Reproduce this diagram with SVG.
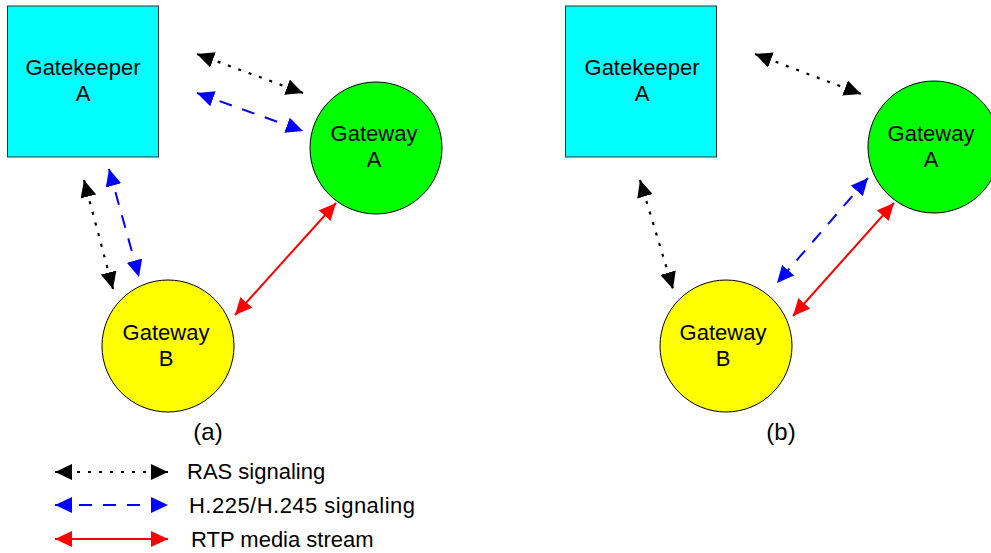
<svg xmlns="http://www.w3.org/2000/svg" width="991" height="553" viewBox="0 0 991 553">
  <style>
    text { font-family: "Liberation Sans", Arial, sans-serif; font-size: 22px; fill: #000; }
    .mid { text-anchor: middle; }
    .gk { fill: #00FFFF; stroke: #333; stroke-width: 1; }
    .gwa { fill: #00FF00; stroke: #000; stroke-width: 1; }
    .gwb { fill: #FFFF00; stroke: #000; stroke-width: 1; }
    .ras { stroke: #000; stroke-width: 2.2; fill: none; stroke-dasharray: 3 8; marker-start: url(#ak); marker-end: url(#ak); }
    .h225 { stroke: #0000FF; stroke-width: 2; fill: none; stroke-dasharray: 13 11; marker-start: url(#ab); marker-end: url(#ab); }
    .rtp { stroke: #FF0000; stroke-width: 2; fill: none; marker-start: url(#ar); marker-end: url(#ar); }
    .cap { font-size: 24px; }
  </style>
  <defs>
    <marker id="ak" viewBox="0 0 17 16" refX="17" refY="8" markerWidth="17" markerHeight="16" markerUnits="userSpaceOnUse" orient="auto-start-reverse">
      <path d="M0,0 L17,8 L0,16 z" fill="#000"/>
    </marker>
    <marker id="ab" viewBox="0 0 17 16" refX="17" refY="8" markerWidth="17" markerHeight="16" markerUnits="userSpaceOnUse" orient="auto-start-reverse">
      <path d="M0,0 L17,8 L0,16 z" fill="#0000FF"/>
    </marker>
    <marker id="ar" viewBox="0 0 17 16" refX="17" refY="8" markerWidth="17" markerHeight="16" markerUnits="userSpaceOnUse" orient="auto-start-reverse">
      <path d="M0,0 L17,8 L0,16 z" fill="#FF0000"/>
    </marker>
  </defs>

  <!-- Panel (a) -->
  <g id="gk-a">
    <rect class="gk" x="7.5" y="6" width="151" height="151"/>
    <text class="mid" x="83" y="75">Gatekeeper</text>
    <text class="mid" x="83" y="101">A</text>
  </g>
  <g id="gwa-a">
    <circle class="gwa" cx="376" cy="148" r="66"/>
    <text class="mid" x="374" y="141">Gateway</text>
    <text class="mid" x="374" y="167">A</text>
  </g>
  <g id="gwb-a">
    <circle class="gwb" cx="168" cy="346" r="66"/>
    <text class="mid" x="166" y="340">Gateway</text>
    <text class="mid" x="166" y="366">B</text>
  </g>
  <text id="label-a" class="mid cap" x="208" y="440">(a)</text>

  <!-- Panel (b) -->
  <g id="gk-b">
    <rect class="gk" x="565.5" y="6" width="151" height="151"/>
    <text class="mid" x="642" y="75">Gatekeeper</text>
    <text class="mid" x="642" y="101">A</text>
  </g>
  <g id="gwa-b">
    <circle class="gwa" cx="934" cy="147" r="66"/>
    <text class="mid" x="931" y="141">Gateway</text>
    <text class="mid" x="931" y="167">A</text>
  </g>
  <g id="gwb-b">
    <circle class="gwb" cx="726" cy="346" r="66"/>
    <text class="mid" x="723" y="340">Gateway</text>
    <text class="mid" x="723" y="366">B</text>
  </g>
  <text id="label-b" class="mid cap" x="781" y="440">(b)</text>

  <!-- Connectors -->
  <g id="connectors">
    <line class="ras" x1="197" y1="54" x2="303" y2="93"/>
    <line class="h225" x1="197" y1="93" x2="303" y2="131"/>
    <line class="ras" x1="84" y1="180" x2="113" y2="289"/>
    <line class="h225" x1="109" y1="169" x2="139" y2="277"/>
    <line class="rtp" x1="336" y1="203" x2="235" y2="315"/>

    <line class="ras" x1="755" y1="54" x2="861" y2="94"/>
    <line class="ras" x1="640" y1="180" x2="673" y2="289"/>
    <line class="h225" x1="868" y1="178" x2="777" y2="283"/>
    <line class="rtp" x1="894" y1="203" x2="793" y2="316"/>

    <line class="ras" x1="55" y1="472" x2="168" y2="472"/>
    <line class="h225" x1="55" y1="505" x2="168" y2="505"/>
    <line class="rtp" x1="55" y1="539" x2="168" y2="539"/>
  </g>

  <!-- Legend texts -->
  <g id="legend">
    <text x="187" y="479">RAS signaling</text>
    <text x="189" y="513" textLength="226" lengthAdjust="spacing">H.225/H.245 signaling</text>
    <text x="191" y="547">RTP media stream</text>
  </g>
</svg>
